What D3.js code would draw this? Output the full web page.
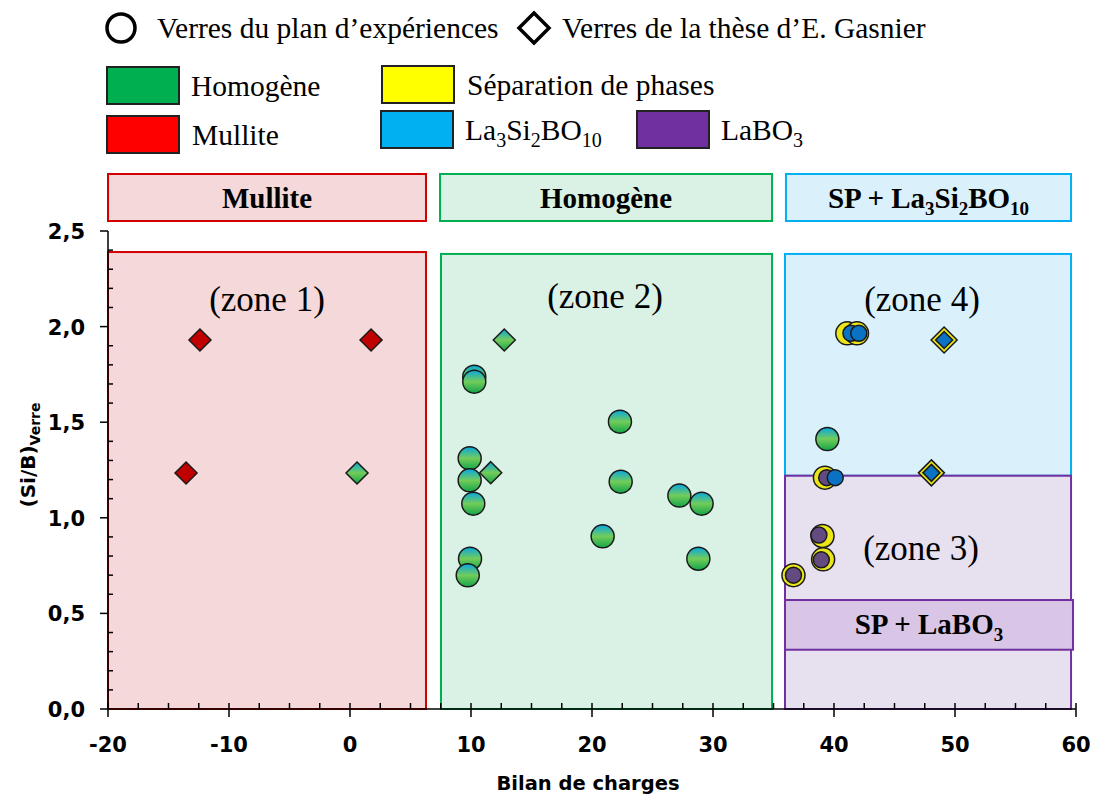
<!DOCTYPE html>
<html><head><meta charset="utf-8">
<script src="https://cdn.jsdelivr.net/npm/d3@7"></script>
<style>body{margin:0;background:#fff}svg{display:block}</style>
</head><body>
<svg id="c" width="1100" height="796"></svg>
<script>
// ---- data ----
const xTicks = [-20,-10,0,10,20,30,40,50,60];
const yTicks = [0,0.5,1.0,1.5,2.0,2.5];
// Homogène glasses (plan d'expériences) [x, y]
const homogeneCircles = [[10.27,1.738],[10.27,1.712],[22.31,1.503],[9.89,1.311],[9.89,1.196],[22.37,1.189],[27.22,1.116],[29.06,1.074],[10.19,1.074],[20.88,0.903],[9.92,0.786],[28.79,0.786],[9.73,0.699],[39.45,1.412]];
// Homogène glasses (thèse E. Gasnier)
const homogeneDiamonds = [[12.75,1.93],[11.63,1.236],[0.58,1.234]];
// Mullite glasses (thèse)
const mulliteDiamonds = [[-12.4,1.93],[1.74,1.93],[-13.55,1.234]];
// Séparation de phases (plan)
const spCircles = [[41.1,1.965],[41.9,1.965],[39.25,1.21],[39.05,0.905],[39.1,0.783],[36.65,0.70]];
// La3Si2BO10 (plan)
const lsbCircles = [[41.4,1.965],[42.05,1.965],[40.1,1.21]];
// LaBO3 (plan)
const lboCircles = [[39.4,1.21],[38.75,0.91],[38.95,0.78],[36.65,0.70]];
// SP + La3Si2BO10 (thèse)
const spDiamonds = [[49.1,1.93],[48.05,1.235]];
const lsbDiamonds = [[49.1,1.93],[48.05,1.235]];
// zones [x0,x1,y0,y1]
const zoneNames = ["(zone 1)","(zone 2)","(zone 4)","(zone 3)"];
const zoneBounds = [[-20,6.28,0,2.39],[7.52,34.88,0,2.38],[35.95,59.59,1.22,2.38],[35.95,59.59,0,1.22]];
const headerNames = ["Mullite","Homogène","SP + La3Si2BO10"];
const headerBounds = [[-20,6.28],[7.44,34.88],[36.03,59.59]];
const spLaboBox = [35.95,59.75,0.31,0.57];

// ---- scales ----
const x = d3.scaleLinear().domain([-20,60]).range([108,1076]);
const y = d3.scaleLinear().domain([0,2.5]).range([709,231]);
const svg = d3.select("#c");
const serif = "'Liberation Serif','Times New Roman',serif";
const sans = "'DejaVu Sans',Verdana,sans-serif";

const defs = svg.append("defs");
const g = defs.append("linearGradient").attr("id","hg").attr("x1",0).attr("y1",0).attr("x2",0).attr("y2",1);
g.append("stop").attr("offset","0%").attr("stop-color","#08a6e0");
g.append("stop").attr("offset","50%").attr("stop-color","#72cc5a");
g.append("stop").attr("offset","100%").attr("stop-color","#12a548");

// ---- zone rects ----
const zfill = ["#f5d8d9","#d9f2e5","#daf1fb","#e7e0ef"];
const zstroke = ["#d00000","#00b050","#00b0f0","#7030a0"];
zoneBounds.forEach((b,i)=>{
  svg.append("rect").attr("x",x(b[0])).attr("y",y(b[3])).attr("width",x(b[1])-x(b[0])).attr("height",y(b[2])-y(b[3]))
    .attr("fill",zfill[i]).attr("stroke",zstroke[i]).attr("stroke-width",2);
});
// SP + LaBO3 box
svg.append("rect").attr("x",x(spLaboBox[0])).attr("y",y(spLaboBox[3])).attr("width",x(spLaboBox[1])-x(spLaboBox[0])).attr("height",y(spLaboBox[2])-y(spLaboBox[3]))
  .attr("fill","#d9c6e7").attr("stroke","#7030a0").attr("stroke-width",2);
{
  const t = svg.append("text").attr("x",(x(spLaboBox[0])+x(spLaboBox[1]))/2).attr("y",(y(spLaboBox[2])+y(spLaboBox[3]))/2+9)
    .attr("text-anchor","middle").attr("font-family",serif).attr("font-weight","bold").attr("font-size",29);
  t.append("tspan").text("SP + LaBO");
  t.append("tspan").text("3").attr("font-size",19).attr("dy",7);
}
// header boxes
const hfill = ["#f5d8d9","#d9f2e5","#daf1fb"];
const hstroke = ["#d00000","#00b050","#00b0f0"];
headerBounds.forEach((b,i)=>{
  svg.append("rect").attr("x",x(b[0])).attr("y",174).attr("width",x(b[1])-x(b[0])).attr("height",47)
    .attr("fill",hfill[i]).attr("stroke",hstroke[i]).attr("stroke-width",2);
  const t = svg.append("text").attr("x",(x(b[0])+x(b[1]))/2).attr("y",208).attr("text-anchor","middle")
    .attr("font-family",serif).attr("font-weight","bold").attr("font-size",29);
  if(i<2) t.text(headerNames[i]);
  else {
    t.append("tspan").text("SP + La");
    t.append("tspan").text("3").attr("font-size",19).attr("dy",7);
    t.append("tspan").text("Si").attr("dy",-7);
    t.append("tspan").text("2").attr("font-size",19).attr("dy",7);
    t.append("tspan").text("BO").attr("dy",-7);
    t.append("tspan").text("10").attr("font-size",19).attr("dy",7);
  }
});
// zone labels
const zlx = [267,605,922,921], zly = [311,308,311,560];
zoneNames.forEach((n,i)=>{
  svg.append("text").attr("x",zlx[i]).attr("y",zly[i]).attr("text-anchor","middle").attr("font-family",serif).attr("font-size",35).text(n);
});

// ---- axes ----
const ax = svg.append("g").attr("stroke","#000").attr("stroke-width",1.5);
ax.append("line").attr("x1",x(-20)).attr("x2",x(60)).attr("y1",y(0)).attr("y2",y(0));
ax.append("line").attr("x1",x(-20)).attr("x2",x(-20)).attr("y1",y(0)).attr("y2",y(2.5));
d3.range(-20,60.01,2.5).forEach(v=>{
  const major = Math.abs(v%10)<1e-6;
  ax.append("line").attr("x1",x(v)).attr("x2",x(v)).attr("y1",y(0)-6).attr("y2",major?y(0)+8:y(0));
});
d3.range(0,2.501,0.1).forEach(v=>{
  const major = Math.abs(Math.round(v*10)%5)===0;
  if(major) ax.append("line").attr("x1",x(-20)-8).attr("x2",x(-20)).attr("y1",y(v)).attr("y2",y(v));
  else ax.append("line").attr("x1",x(-20)).attr("x2",x(-20)+5).attr("y1",y(v)).attr("y2",y(v));
});
xTicks.forEach(v=>{
  svg.append("text").attr("x",x(v)).attr("y",752).attr("text-anchor","middle").attr("font-family",sans).attr("font-weight","bold").attr("font-size",21).text(v);
});
yTicks.forEach(v=>{
  svg.append("text").attr("x",85).attr("y",y(v)+8).attr("text-anchor","end").attr("font-family",sans).attr("font-weight","bold").attr("font-size",21).text(v.toFixed(1).replace(".",","));
});
svg.append("text").attr("x",588).attr("y",790).attr("text-anchor","middle").attr("font-family",sans).attr("font-weight","bold").attr("font-size",19.5).text("Bilan de charges");
{
  const t = svg.append("text").attr("transform","translate(35,455) rotate(-90)").attr("text-anchor","middle")
    .attr("font-family",sans).attr("font-weight","bold").attr("font-size",20);
  t.append("tspan").text("(Si/B)");
  t.append("tspan").text("Verre").attr("font-size",14).attr("dy",5);
}

// ---- markers ----
const stroke = "#1a1a1a";
function circles(data, r, fill){
  svg.append("g").selectAll("circle").data(data).join("circle")
    .attr("cx",d=>x(d[0])).attr("cy",d=>y(d[1])).attr("r",r).attr("fill",fill).attr("stroke",stroke).attr("stroke-width",1.5);
}
function diamonds(data, h, fill){
  svg.append("g").selectAll("path").data(data).join("path")
    .attr("d",d=>{const cx=x(d[0]),cy=y(d[1]);return `M${cx},${cy-h}L${cx+h},${cy}L${cx},${cy+h}L${cx-h},${cy}Z`;})
    .attr("fill",fill).attr("stroke",stroke).attr("stroke-width",1.5);
}
diamonds(mulliteDiamonds,11,"#c00000");
diamonds(homogeneDiamonds,11,"url(#hg)");
circles(homogeneCircles,11.5,"url(#hg)");
circles(spCircles,11.5,"#ebe619");
circles(lboCircles,8,"#634b80");
circles(lsbCircles,8,"#0a72c2");
diamonds(spDiamonds,13,"#ebe619");
diamonds(lsbDiamonds,8.5,"#0a72c2");

// ---- legend ----
svg.append("circle").attr("cx",121).attr("cy",28).attr("r",14).attr("fill","#fff").attr("stroke","#000").attr("stroke-width",3.5);
svg.append("text").attr("x",157).attr("y",38).attr("font-family",serif).attr("font-size",29.5).text("Verres du plan d’expériences");
svg.append("path").attr("d","M534,13L549,28L534,43L519,28Z").attr("fill","#fff").attr("stroke","#000").attr("stroke-width",3.5);
svg.append("text").attr("x",562).attr("y",38).attr("font-family",serif).attr("font-size",29.5).text("Verres de la thèse d’E. Gasnier");
const legItems = [
  {x:107,y:67,c:"#00b050",t:"Homogène",tx:191},
  {x:107,y:116,c:"#ff0000",t:"Mullite",tx:192},
  {x:382,y:66,c:"#ffff00",t:"Séparation de phases",tx:467},
  {x:381,y:111,c:"#00b0f0",t:null,tx:465},
  {x:637,y:111,c:"#7030a0",t:null,tx:721}
];
legItems.forEach((d,i)=>{
  svg.append("rect").attr("x",d.x).attr("y",d.y).attr("width",72).attr("height",37).attr("fill",d.c).attr("stroke","#222").attr("stroke-width",2);
  const t = svg.append("text").attr("x",d.tx).attr("y",d.y+29).attr("font-family",serif).attr("font-size",29.5);
  if(d.t) t.text(d.t);
  else if(i===3){
    t.append("tspan").text("La"); t.append("tspan").text("3").attr("font-size",20).attr("dy",7);
    t.append("tspan").text("Si").attr("dy",-7); t.append("tspan").text("2").attr("font-size",20).attr("dy",7);
    t.append("tspan").text("BO").attr("dy",-7); t.append("tspan").text("10").attr("font-size",20).attr("dy",7);
  } else {
    t.append("tspan").text("LaBO"); t.append("tspan").text("3").attr("font-size",20).attr("dy",7);
  }
});
</script>
</body></html>
